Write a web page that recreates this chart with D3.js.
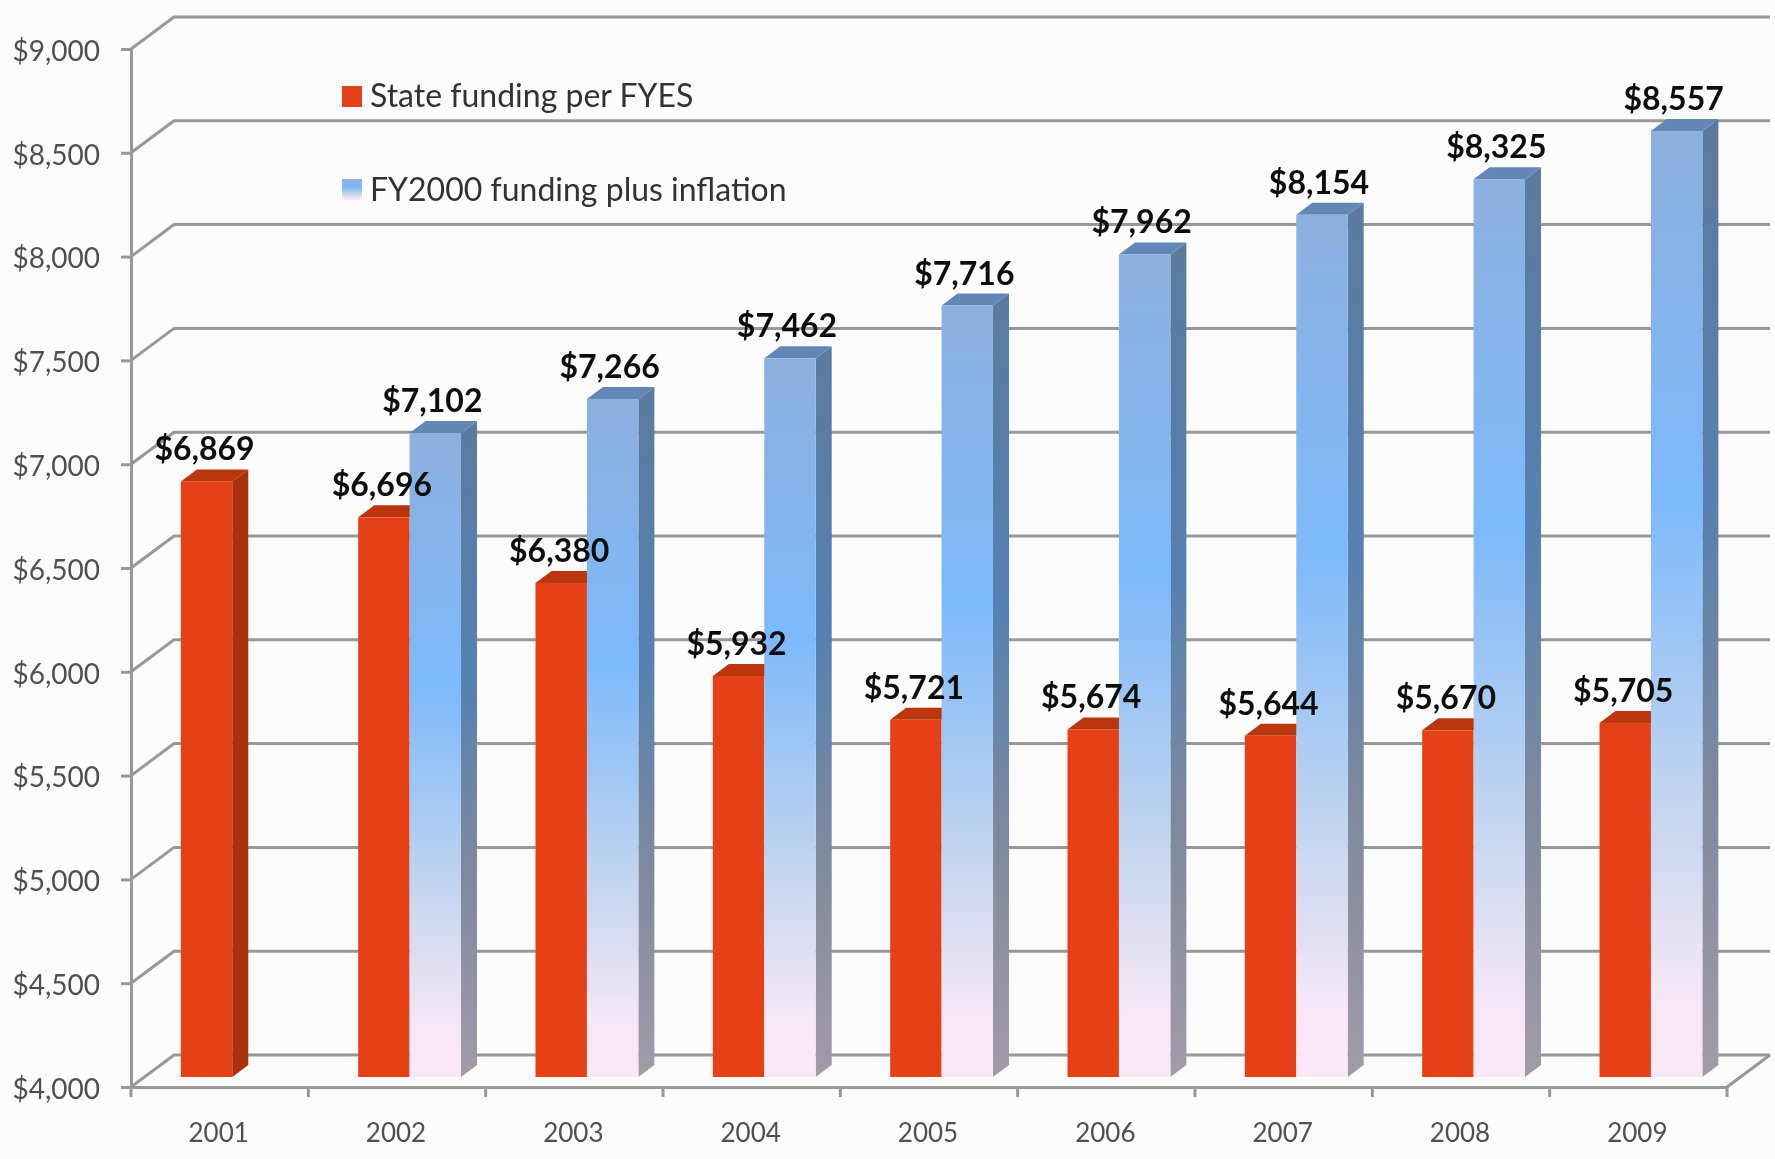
<!DOCTYPE html>
<html>
<head>
<meta charset="utf-8">
<script src="https://cdnjs.cloudflare.com/ajax/libs/d3/7.8.5/d3.min.js"></script>
<style>
  html, body { margin: 0; padding: 0; background: #fcfcfc; }
  svg { display: block; font-family: Lato, "Open Sans", sans-serif; }
</style>
</head>
<body>
<div id="chart"></div>
<script>
const years = ['2001', '2002', '2003', '2004', '2005', '2006', '2007', '2008', '2009'];
const stateFunding = [6869, 6696, 6380, 5932, 5721, 5674, 5644, 5670, 5705];
const inflationFunding = [null, 7102, 7266, 7462, 7716, 7962, 8154, 8325, 8557];
const yTicks = [4000, 4500, 5000, 5500, 6000, 6500, 7000, 7500, 8000, 8500, 9000];
const legendLabels = ['State funding per FYES', 'FY2000 funding plus inflation'];

const width = 1775;
const height = 1159;
const margin = { top: 49, right: 48, bottom: 72, left: 131 };

const color = {
  grid: '#989898',
  label: '#505050',
  red: { front: '#e54114', side: '#a93209', top: '#bb3609' },
  blueTop: '#6487b4'
};

// wall depth and where the bars sit on the floor
const wall = { dx: 43, dy: -32 };
const barPlane = { dx: 12.6, dy: -10 };
const barDepth = { dx: 16, dy: -12 };

const svg = d3.select('#chart')
  .append('svg')
  .attr('width', width)
  .attr('height', height);

const x = d3.scaleBand()
  .domain(years)
  .range([margin.left, width - margin.right]);

const y = d3.scaleLinear()
  .domain([4000, 9000])
  .range([height - margin.bottom, margin.top]);

const barWidth = x.bandwidth() * 0.29;

// Gradients
const defs = svg.append('defs');
const addGradient = (id, stops) => {
  const g = defs.append('linearGradient')
    .attr('id', id)
    .attr('x1', 0).attr('y1', 0).attr('x2', 0).attr('y2', 1);
  stops.forEach(([offset, c]) => {
    g.append('stop').attr('offset', offset).attr('stop-color', c);
  });
};
addGradient('blueFront', [[0, '#8cb0de'], [0.39, '#7db9fa'], [0.7, '#c0d4ef'], [0.93, '#f8e8f7'], [1, '#f9e8f7']]);
addGradient('blueSide', [[0, '#5c7a9f'], [0.4, '#5581b2'], [0.7, '#80899d'], [1, '#a29ba8']]);

// The reference is a soft, slightly blurred image
defs.append('filter')
  .attr('id', 'soft')
  .attr('filterUnits', 'userSpaceOnUse')
  .attr('x', 0).attr('y', 0)
  .attr('width', width).attr('height', height)
  .append('feGaussianBlur')
  .attr('stdDeviation', 0.7);

const root = svg.append('g').attr('filter', 'url(#soft)');

// Back wall gridlines, with the slanted piece going to the axis
const grid = root.append('g')
  .attr('fill', 'none')
  .attr('stroke', color.grid)
  .attr('stroke-width', 3);

grid.selectAll('path')
  .data(yTicks)
  .join('path')
  .attr('d', (d) => {
    const p = d3.path();
    p.moveTo(x.range()[0], y(d));
    p.lineTo(x.range()[0] + wall.dx, y(d) + wall.dy);
    p.lineTo(x.range()[1] + wall.dx, y(d) + wall.dy);
    return p.toString();
  });

// Floor edge on the right
grid.append('line')
  .attr('x1', x.range()[1])
  .attr('y1', y(4000))
  .attr('x2', x.range()[1] + wall.dx)
  .attr('y2', y(4000) + wall.dy);

// Axes
const yAxis = root.append('g')
  .attr('transform', `translate(${margin.left}, 0)`)
  .call(d3.axisLeft(y)
    .tickValues(yTicks)
    .tickFormat(d3.format('$,'))
    .tickSize(10)
    .tickPadding(21));

const xAxis = root.append('g')
  .attr('transform', `translate(0, ${height - margin.bottom})`)
  .call(d3.axisBottom(x).tickSize(0).tickPadding(37));

// Band axis puts ticks in the middle, here they are on the edges
xAxis.selectAll('.edge')
  .data([...years.map((d) => x(d)), x.range()[1]])
  .join('line')
  .attr('class', 'edge')
  .attr('x1', (d) => d)
  .attr('x2', (d) => d)
  .attr('y1', 0)
  .attr('y2', 10)
  .attr('stroke', color.grid)
  .attr('stroke-width', 3);

[yAxis, xAxis].forEach((axis) => {
  axis.attr('font-family', null);
  axis.selectAll('.domain, .tick line')
    .attr('stroke', color.grid)
    .attr('stroke-width', 3);
  axis.selectAll('text')
    .attr('fill', color.label);
});
yAxis.attr('font-size', 28);
yAxis.selectAll('text').attr('dy', '0.4em');
xAxis.attr('font-size', 26);
xAxis.selectAll('text').attr('dx', -1);

// 3D bar: front rect, side and top faces
const bar = (parent, left, value, fills) => {
  const baseY = y(4000) + barPlane.dy;
  const topY = y(value) + barPlane.dy;
  const right = left + barWidth;
  const g = parent.append('g');

  if (fills.side) {
    g.append('path')
      .attr('d', `M${right},${topY}L${right + barDepth.dx},${topY + barDepth.dy}L${right + barDepth.dx},${baseY + barDepth.dy}L${right},${baseY}Z`)
      .attr('fill', fills.side);
  }
  g.append('path')
    .attr('d', `M${left},${topY}L${left + barDepth.dx},${topY + barDepth.dy}L${right + barDepth.dx},${topY + barDepth.dy}L${right},${topY}Z`)
    .attr('fill', fills.top);
  g.append('rect')
    .attr('x', left)
    .attr('y', topY)
    .attr('width', barWidth)
    .attr('height', baseY - topY)
    .attr('fill', fills.front);
};

const bars = root.append('g');

years.forEach((year, i) => {
  const center = x(year) + x.bandwidth() / 2 + barPlane.dx;
  // red first, the blue bar covers its top face
  bar(bars, center - barWidth, stateFunding[i], {
    front: color.red.front,
    side: inflationFunding[i] === null ? color.red.side : null,
    top: color.red.top
  });
  if (inflationFunding[i] !== null) {
    bar(bars, center, inflationFunding[i], {
      front: 'url(#blueFront)',
      side: 'url(#blueSide)',
      top: color.blueTop
    });
  }
});

// Value labels
const labels = root.append('g')
  .attr('text-anchor', 'middle')
  .attr('font-weight', 700)
  .attr('font-size', 32)
  .attr('fill', '#111111');

years.forEach((year, i) => {
  const center = x(year) + x.bandwidth() / 2 + barPlane.dx;
  labels.append('text')
    .attr('x', center - barWidth / 2 - 2)
    .attr('y', y(stateFunding[i]) + barPlane.dy - 21)
    .text(d3.format('$,')(stateFunding[i]));
  if (inflationFunding[i] !== null) {
    labels.append('text')
      .attr('x', center + barWidth / 2 - 3)
      .attr('y', y(inflationFunding[i]) + barPlane.dy - 21)
      .text(d3.format('$,')(inflationFunding[i]));
  }
});

// Legend
const legend = root.append('g').attr('font-size', 32).attr('fill', '#333333');
legend.append('rect').attr('x', 342).attr('y', 86).attr('width', 20).attr('height', 21).attr('fill', color.red.front);
legend.append('rect').attr('x', 342).attr('y', 179).attr('width', 20).attr('height', 21).attr('fill', 'url(#blueFront)');
legend.append('text').attr('x', 370).attr('y', 107).text(legendLabels[0]);
legend.append('text').attr('x', 370).attr('y', 201).text(legendLabels[1]);
</script>
</body>
</html>
